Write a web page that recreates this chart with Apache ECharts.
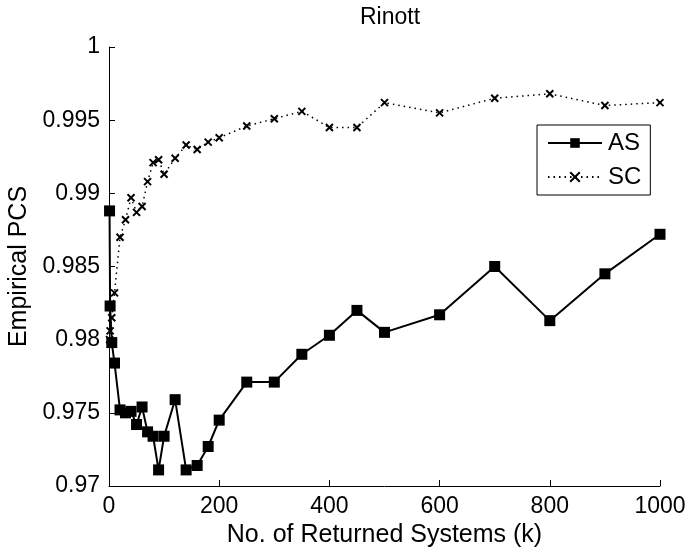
<!DOCTYPE html>
<html>
<head>
<meta charset="utf-8">
<script src="https://cdn.jsdelivr.net/npm/echarts@6/dist/echarts.min.js"></script>
<style>
  html, body { margin: 0; padding: 0; background: #fff; }
  #view { width: 690px; height: 547px; }
</style>
</head>
<body>
<div id="view"></div>
<script>
var myChart = echarts.init(document.getElementById('view'));

// returned systems k
var kValues = [1, 2, 5, 10, 20, 30, 40, 50, 60, 70, 80, 90, 100, 120, 140, 160, 180, 200,
               250, 300, 350, 400, 450, 500, 600, 700, 800, 900, 1000];
// empirical PCS
var asValues = [0.9888, 0.9823, 0.9798, 0.9784, 0.9752, 0.9750, 0.9751, 0.9742, 0.9754, 0.9737,
                0.9734, 0.9711, 0.9734, 0.9759, 0.9711, 0.9714, 0.9727, 0.9745,
                0.9771, 0.9771, 0.9790, 0.9803, 0.9820, 0.9805, 0.9817, 0.9850, 0.9813, 0.9845, 0.9872];
var scValues = [0.9800, 0.9806, 0.9815, 0.9832, 0.9870, 0.9882, 0.9897, 0.9887, 0.9891, 0.9908,
                0.9921, 0.9923, 0.9913, 0.9924, 0.9933, 0.9930, 0.9935, 0.9938,
                0.9946, 0.9951, 0.9956, 0.9945, 0.9945, 0.9962, 0.9955, 0.9965, 0.9968, 0.9960, 0.9962];

function pairs(ys) {
    return kValues.map(function (k, i) { return [k, ys[i]]; });
}

var font = 'Liberation Sans, Arial, sans-serif';

option = {
    backgroundColor: '#fff',
    animation: false,
    title: {
        text: 'Rinott',
        left: 385,
        textAlign: 'center',
        top: 1,
        textStyle: { fontFamily: font, fontSize: 23, fontWeight: 'normal', color: '#000' }
    },
    legend: {
        orient: 'vertical',
        left: 537,
        top: 125,
        padding: [6, 9, 6, 10],
        itemGap: 10,
        itemWidth: 54,
        itemHeight: 12,
        borderColor: '#000',
        borderWidth: 1,
        borderRadius: 0,
        backgroundColor: '#fff',
        textStyle: { fontFamily: font, fontSize: 24, color: '#000', padding: [0, 0, 0, 1] },
        data: ['AS', 'SC']
    },
    grid: { left: 109, right: 30, top: 47, bottom: 61, outerBoundsMode: 'none' },
    xAxis: {
        type: 'value',
        min: 0,
        max: 1000,
        interval: 200,
        name: 'No. of Returned Systems (k)',
        nameLocation: 'middle',
        nameGap: 24,
        nameTextStyle: { fontFamily: font, fontSize: 25, color: '#000' },
        axisLine: { lineStyle: { color: '#000', width: 1 } },
        axisTick: { inside: true, length: 6, lineStyle: { color: '#000' } },
        axisLabel: {
            fontFamily: font, fontSize: 23, color: '#000', margin: 9,
            formatter: function (v) { return String(v); }
        },
        splitLine: { show: false }
    },
    yAxis: {
        type: 'value',
        min: 0.97,
        max: 1,
        interval: 0.005,
        name: 'Empirical PCS',
        nameLocation: 'middle',
        nameGap: 76,
        nameTextStyle: { fontFamily: font, fontSize: 25, color: '#000' },
        axisLine: { show: true, lineStyle: { color: '#000', width: 1 } },
        axisTick: { show: true, inside: true, length: 6, lineStyle: { color: '#000' } },
        axisLabel: {
            fontFamily: font, fontSize: 23, color: '#000', margin: 9,
            formatter: function (v) { return String(+v.toFixed(3)); }
        },
        splitLine: { show: false }
    },
    series: [{
        name: 'AS',
        type: 'line',
        data: pairs(asValues),
        symbol: 'rect',
        symbolSize: 11,
        itemStyle: { color: '#000' },
        lineStyle: { color: '#000', width: 2 },
        z: 3
    }, {
        name: 'SC',
        type: 'line',
        data: pairs(scValues),
        symbol: 'path://M0,0L10,10M10,0L0,10',
        symbolSize: 7,
        itemStyle: { color: 'none', borderColor: '#000', borderWidth: 2 },
        lineStyle: { color: '#000', width: 1.5, type: [1.5, 4] },
        z: 2
    }]
};

myChart.setOption(option);
</script>
</body>
</html>
